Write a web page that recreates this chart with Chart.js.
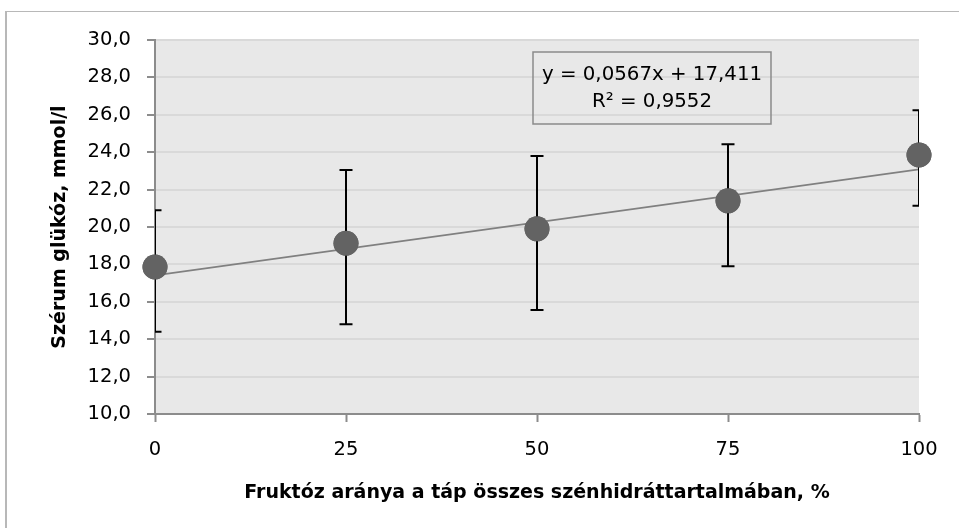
<!DOCTYPE html>
<html>
<head>
<meta charset="utf-8">
<script src="https://cdn.jsdelivr.net/npm/chart.js@4/dist/chart.umd.min.js"></script>
<style>
  html, body { margin: 0; padding: 0; background: #fff; overflow: hidden; }
  #wrap { position: relative; width: 959px; height: 528px; }
  #frame { position: absolute; left: 5px; top: 11px; width: 980px; height: 560px; border: 1px solid #b8b8b8; border-left-width: 2px; box-sizing: border-box; }
  canvas { position: absolute; left: 0; top: 0; }
</style>
</head>
<body>
<div id="wrap">
  <div id="frame"></div>
  <canvas id="c" width="959" height="528"></canvas>
</div>
<script>
// Data
const fructosePct = [0, 25, 50, 75, 100];
const glucoseMean = [17.86, 19.13, 19.9, 21.4, 23.85];
const errorUpper = [20.9, 23.05, 23.8, 24.42, 26.24];
const errorLower = [14.4, 14.8, 15.56, 17.9, 21.14];
const trendX = [0, 100];
const trendY = [17.411, 23.081];
const equationLines = ['y = 0,0567x + 17,411', 'R² = 0,9552'];
const xTitle = 'Fruktóz aránya a táp összes szénhidráttartalmában, %';
const yTitle = 'Szérum glükóz, mmol/l';

const FONT = "'DejaVu Sans', sans-serif";

const bgPlugin = {
  id: 'plotBg',
  beforeDraw(chart) {
    const { ctx, chartArea: a } = chart;
    ctx.save();
    ctx.fillStyle = '#e8e8e8';
    ctx.fillRect(a.left, a.top, a.right - a.left, a.bottom - a.top);
    ctx.restore();
  }
};

const errorBarPlugin = {
  id: 'errorBars',
  afterDatasetsDraw(chart) {
    const { ctx, chartArea: a, scales: { x, y } } = chart;
    ctx.save();
    ctx.beginPath();
    ctx.rect(a.left, a.top - 5, a.right - a.left, a.bottom - a.top + 10);
    ctx.clip();
    ctx.strokeStyle = '#000';
    ctx.lineWidth = 2;
    const cap = 6.5;
    fructosePct.forEach((xv, i) => {
      const px = x.getPixelForValue(xv);
      const pt = y.getPixelForValue(errorUpper[i]);
      const pb = y.getPixelForValue(errorLower[i]);
      ctx.beginPath();
      ctx.moveTo(px, pt); ctx.lineTo(px, pb);
      ctx.moveTo(px - cap, pt); ctx.lineTo(px + cap, pt);
      ctx.moveTo(px - cap, pb); ctx.lineTo(px + cap, pb);
      ctx.stroke();
    });
    ctx.restore();
    // redraw points on top of error bars
    const meta = chart.getDatasetMeta(1);
    meta.data.forEach(el => el.draw(ctx));
  }
};

const equationPlugin = {
  id: 'equation',
  afterDraw(chart) {
    const { ctx, chartArea: a } = chart;
    const left = a.left + 378, top = a.top + 12, w = 238, h = 72;
    ctx.save();
    ctx.strokeStyle = '#8a8a8a';
    ctx.lineWidth = 1.5;
    ctx.strokeRect(left, top, w, h);
    ctx.fillStyle = '#000';
    ctx.font = "19.8px " + FONT;
    ctx.textAlign = 'center';
    ctx.textBaseline = 'middle';
    ctx.fillText(equationLines[0], left + w / 2, top + 23);
    ctx.fillText(equationLines[1], left + w / 2, top + 50);
    ctx.restore();
  }
};

new Chart(document.getElementById('c'), {
  type: 'scatter',
  data: {
    datasets: [
      {
        type: 'line',
        label: 'Trend',
        data: trendX.map((v, i) => ({ x: v, y: trendY[i] })),
        borderColor: '#808080',
        borderWidth: 1.8,
        pointRadius: 0,
        fill: false,
        order: 2
      },
      {
        label: 'Glükóz',
        data: fructosePct.map((v, i) => ({ x: v, y: glucoseMean[i] })),
        backgroundColor: '#636363',
        borderColor: '#636363',
        borderWidth: 0,
        pointRadius: 12.5,
        clip: false,
        order: 1
      }
    ]
  },
  options: {
    responsive: false,
    animation: false,
    devicePixelRatio: 1,
    layout: { padding: { left: 0, top: 40, right: 40, bottom: 0 } },
    plugins: { legend: { display: false }, tooltip: { enabled: false } },
    scales: {
      x: {
        type: 'linear',
        min: 0, max: 100,
        afterFit(s) { s.height = 114; },
        ticks: {
          stepSize: 25,
          color: '#000',
          font: { family: FONT, size: 19.5 },
          padding: 16
        },
        grid: { drawOnChartArea: false, drawTicks: true, tickLength: 8, tickColor: '#8c8c8c', tickWidth: 2 },
        border: { color: '#8c8c8c', width: 2 },
        title: {
          display: true,
          text: xTitle,
          color: '#000',
          font: { family: FONT, size: 19, weight: 'bold' },
          padding: { top: 0, bottom: 23.6 }
        }
      },
      y: {
        min: 10, max: 30,
        afterFit(s) { s.width = 155; },
        ticks: {
          stepSize: 2,
          color: '#000',
          font: { family: FONT, size: 19.5 },
          padding: 16,
          callback: v => v.toFixed(1).replace('.', ',')
        },
        grid: { color: '#d9d9d9', lineWidth: 2, drawTicks: true, tickLength: 8, tickColor: '#8c8c8c', tickWidth: 2 },
        border: { color: '#8c8c8c', width: 2 },
        title: {
          display: true,
          text: yTitle,
          color: '#000',
          font: { family: FONT, size: 19, weight: 'bold' },
          padding: { top: 48.6, bottom: 0 }
        }
      }
    }
  },
  plugins: [bgPlugin, errorBarPlugin, equationPlugin]
});
</script>
</body>
</html>
